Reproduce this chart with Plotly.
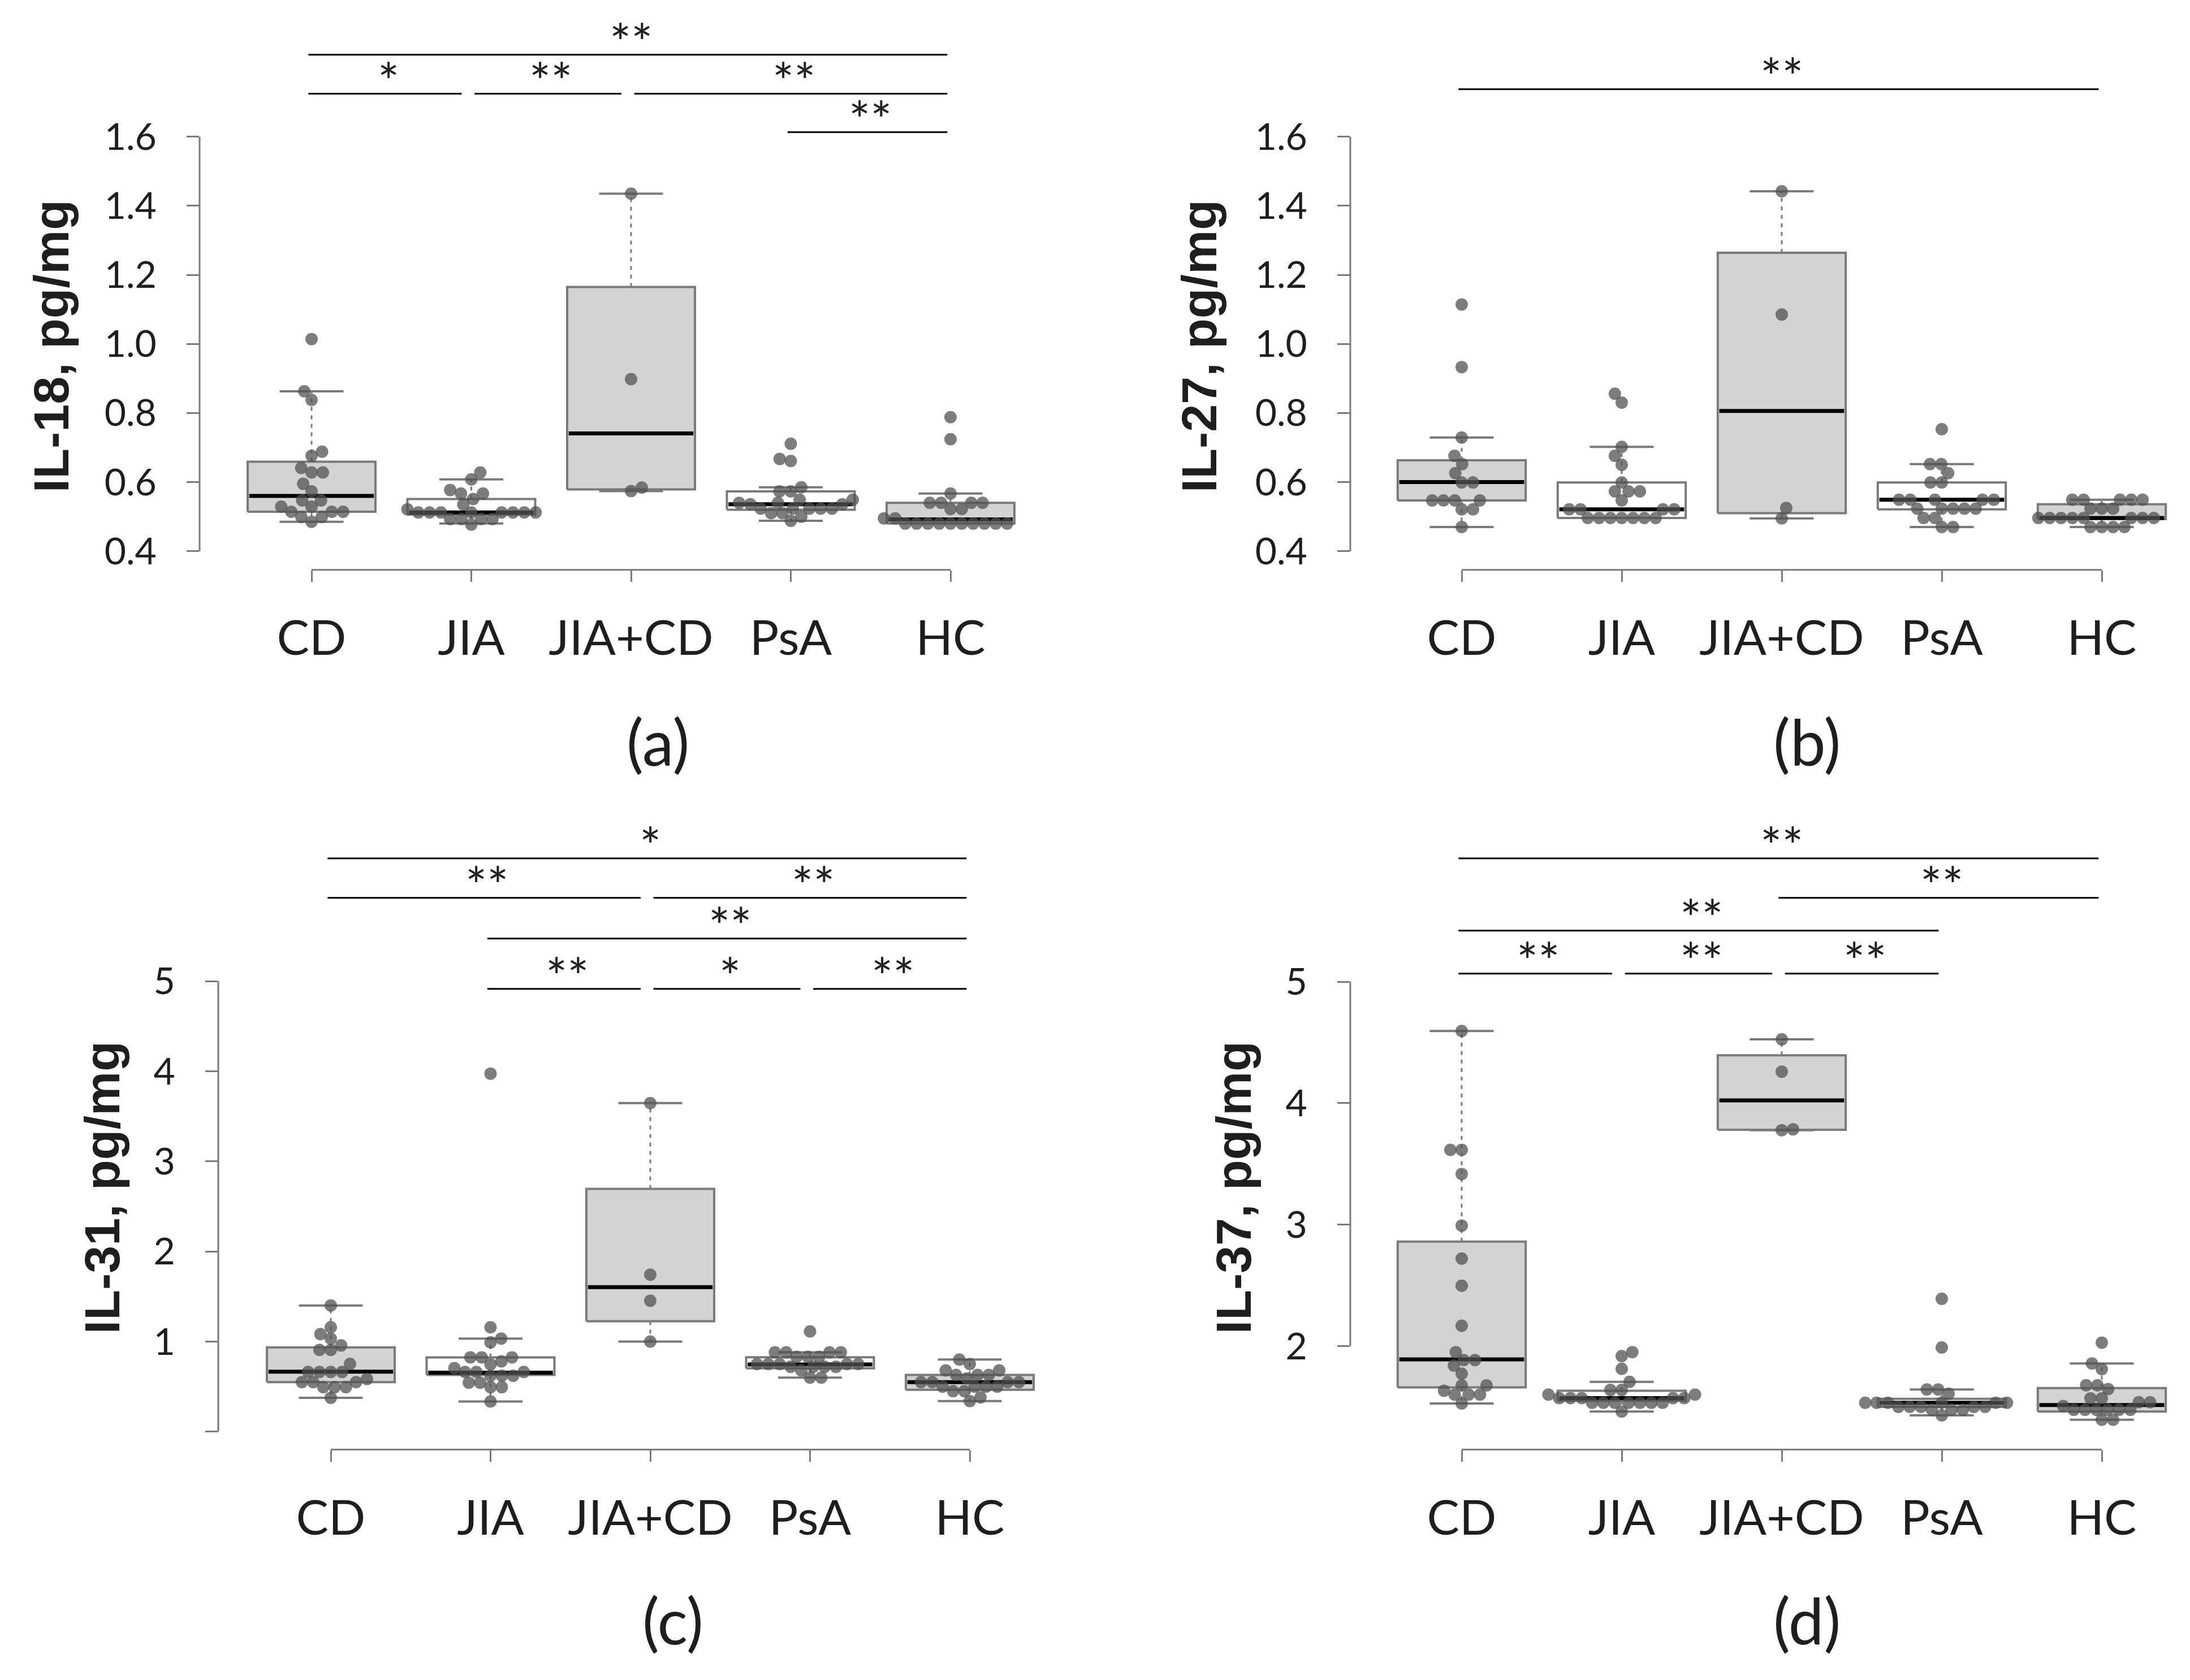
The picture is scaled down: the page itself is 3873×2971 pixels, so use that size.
import numpy as np
import plotly.graph_objects as go

W, H = 3873, 2971

GROUPS = ["CD", "JIA", "JIA+CD", "PsA", "HC"]
BOX_FILL = ["#d3d3d3", "#ffffff", "#d3d3d3", "#ffffff", "#d3d3d3"]

# ---------------- (a) IL-18 ----------------
il18_cd = [1.014, 0.863, 0.838, 0.688, 0.676, 0.641, 0.628, 0.628, 0.595, 0.573,
           0.547, 0.547, 0.529, 0.529, 0.514, 0.514, 0.514, 0.499, 0.499, 0.485]
il18_jia = [0.628, 0.608, 0.577, 0.567, 0.567, 0.551, 0.535, 0.521,
            0.512, 0.512, 0.512, 0.512, 0.512, 0.512, 0.512, 0.512,
            0.493, 0.493, 0.493, 0.493, 0.477]
il18_jiacd = [1.435, 0.898, 0.584, 0.574]
il18_psa = [0.711, 0.667, 0.661, 0.585, 0.573, 0.573, 0.549, 0.549, 0.540, 0.540,
            0.536, 0.536, 0.523, 0.523, 0.523, 0.523, 0.523, 0.510, 0.510, 0.500, 0.488]
il18_hc = [0.788, 0.724, 0.567, 0.540, 0.540, 0.540, 0.540, 0.522, 0.522, 0.495, 0.495,
           0.480, 0.480, 0.480, 0.480, 0.480, 0.480, 0.480, 0.480, 0.480, 0.480]
il18_q1 = [0.514, 0.506, 0.579, 0.520, 0.480]
il18_med = [0.560, 0.512, 0.741, 0.536, 0.492]
il18_q3 = [0.659, 0.551, 1.165, 0.573, 0.540]
il18_lo = [0.485, 0.480, 0.574, 0.488, 0.480]
il18_hi = [0.863, 0.608, 1.435, 0.585, 0.567]

# ---------------- (b) IL-27 ----------------
il27_cd = [1.114, 0.933, 0.729, 0.676, 0.652, 0.626, 0.599, 0.599,
           0.547, 0.547, 0.547, 0.547, 0.521, 0.521, 0.470]
il27_jia = [0.856, 0.830, 0.702, 0.676, 0.650, 0.599, 0.573, 0.573, 0.573, 0.547,
            0.521, 0.521, 0.521, 0.521,
            0.496, 0.496, 0.496, 0.496, 0.496, 0.496, 0.496]
il27_jiacd = [1.442, 1.085, 0.525, 0.495]
il27_psa = [0.753, 0.652, 0.652, 0.626, 0.599, 0.599,
            0.549, 0.549, 0.549, 0.549, 0.549, 0.523, 0.523, 0.523, 0.523, 0.523,
            0.496, 0.496, 0.470, 0.470]
il27_hc = [0.549, 0.549, 0.549, 0.549, 0.549, 0.523, 0.523, 0.523,
           0.496, 0.496, 0.496, 0.496, 0.496, 0.496, 0.496, 0.496,
           0.470, 0.470, 0.470, 0.470]
il27_q1 = [0.547, 0.496, 0.510, 0.521, 0.493]
il27_med = [0.600, 0.521, 0.806, 0.549, 0.496]
il27_q3 = [0.663, 0.599, 1.264, 0.599, 0.536]
il27_lo = [0.470, 0.496, 0.495, 0.470, 0.470]
il27_hi = [0.729, 0.702, 1.442, 0.652, 0.549]

# ---------------- (c) IL-31 ----------------
il31_cd = [1.401, 1.159, 1.083, 1.033, 0.957, 0.907, 0.907, 0.752,
           0.662, 0.662, 0.662, 0.662, 0.584, 0.55, 0.55, 0.55,
           0.494, 0.494, 0.494, 0.376]
il31_jia = [3.975, 1.159, 1.033, 0.991, 0.825, 0.825, 0.825, 0.78, 0.747, 0.705,
            0.662, 0.662, 0.662, 0.62, 0.62, 0.62, 0.544, 0.544, 0.494, 0.494, 0.334]
il31_jiacd = [3.648, 1.742, 1.453, 1.0]
il31_psa = [1.113, 0.88, 0.88, 0.88, 0.88, 0.83, 0.83, 0.83,
            0.75, 0.75, 0.75, 0.75, 0.75, 0.72, 0.72, 0.72, 0.72, 0.68, 0.60, 0.60]
il31_hc = [0.80, 0.75, 0.68, 0.68, 0.63, 0.63, 0.63, 0.59,
           0.55, 0.55, 0.55, 0.55, 0.50, 0.50, 0.50, 0.50, 0.45, 0.45, 0.38, 0.34]
il31_q1 = [0.55, 0.63, 1.226, 0.704, 0.465]
il31_med = [0.665, 0.655, 1.604, 0.745, 0.55]
il31_q3 = [0.935, 0.825, 2.695, 0.826, 0.63]
il31_lo = [0.376, 0.334, 1.0, 0.60, 0.34]
il31_hi = [1.40, 1.033, 3.648, 0.88, 0.80]

# ---------------- (d) IL-37 ----------------
il37_cd = [4.595, 3.616, 3.616, 3.417, 2.992, 2.72, 2.497, 2.167, 1.95, 1.884,
           1.884, 1.839, 1.772, 1.676, 1.676, 1.632, 1.60, 1.60, 1.60, 1.527]
il37_jia = [1.95, 1.917, 1.812, 1.705, 1.638, 1.638, 1.60, 1.60,
            1.571, 1.571, 1.571, 1.571, 1.571,
            1.533, 1.533, 1.533, 1.533, 1.533, 1.533, 1.533, 1.46]
il37_jiacd = [4.526, 4.26, 3.785, 3.778]
il37_psa = [2.389, 1.988, 1.642, 1.642, 1.607,
            1.533, 1.533, 1.533, 1.533, 1.533, 1.533,
            1.499, 1.499, 1.499, 1.499, 1.499, 1.475, 1.475, 1.475, 1.429]
il37_hc = [2.027, 1.856, 1.81, 1.677, 1.677, 1.646, 1.569, 1.569, 1.537, 1.537,
           1.506, 1.475, 1.475, 1.475, 1.475, 1.475, 1.475, 1.393, 1.393]
il37_q1 = [1.66, 1.55, 3.781, 1.499, 1.46]
il37_med = [1.89, 1.571, 4.023, 1.533, 1.514]
il37_q3 = [2.86, 1.632, 4.395, 1.565, 1.654]
il37_lo = [1.527, 1.46, 3.778, 1.429, 1.393]
il37_hi = [4.595, 1.705, 4.526, 1.642, 1.856]

# y ticks
ticks_a = [0.4, 0.6, 0.8, 1.0, 1.2, 1.4, 1.6]
ticks_a_text = ["0.4", "0.6", "0.8", "1.0", "1.2", "1.4", "1.6"]
ticks_c = [0, 1, 2, 3, 4, 5]
ticks_c_text = ["", "1", "2", "3", "4", "5"]
ticks_d = [2, 3, 4, 5]
ticks_d_text = ["2", "3", "4", "5"]

# significance: (group from, group to, label, row)
sig_a = [(0, 4, "**", 2), (0, 1, "*", 1), (1, 2, "**", 1), (2, 4, "**", 1), (3, 4, "**", 0)]
sig_b = [(0, 4, "**", 0)]
sig_c = [(0, 4, "*", 3), (0, 2, "**", 2), (2, 4, "**", 2), (1, 4, "**", 1),
         (1, 2, "**", 0), (2, 3, "*", 0), (3, 4, "**", 0)]
sig_d = [(0, 4, "**", 3), (2, 4, "**", 2), (0, 3, "**", 1),
         (0, 1, "**", 0), (1, 2, "**", 0), (2, 3, "**", 0)]

# panel geometry in page pixels
PANELS = [
    dict(title="IL-18, pg/mg", tag="(a)",
         pts=[il18_cd, il18_jia, il18_jiacd, il18_psa, il18_hc],
         q1=il18_q1, med=il18_med, q3=il18_q3, lo=il18_lo, hi=il18_hi,
         tv=ticks_a, tt=ticks_a_text, sig=sig_a, rows=[234, 166, 97],
         left=353, cat0=551, step=282.5, bottom=1009, top=20, yref=(1.6, 242), ppu=611.7,
         title_xy=(90, 613), tag_xy=(1163, 1312)),
    dict(title="IL-27, pg/mg", tag="(b)",
         pts=[il27_cd, il27_jia, il27_jiacd, il27_psa, il27_hc],
         q1=il27_q1, med=il27_med, q3=il27_q3, lo=il27_lo, hi=il27_hi,
         tv=ticks_a, tt=ticks_a_text, sig=sig_b, rows=[158],
         left=2388, cat0=2585, step=283, bottom=1009, top=20, yref=(1.6, 242), ppu=611.7,
         title_xy=(2120, 613), tag_xy=(3195, 1312)),
    dict(title="IL-31, pg/mg", tag="(c)",
         pts=[il31_cd, il31_jia, il31_jiacd, il31_psa, il31_hc],
         q1=il31_q1, med=il31_med, q3=il31_q3, lo=il31_lo, hi=il31_hi,
         tv=ticks_c, tt=ticks_c_text, sig=sig_c, rows=[1751, 1662, 1590, 1520],
         left=386, cat0=585, step=282.5, bottom=2567, top=1440, yref=(5, 1737.7), ppu=159.5,
         title_xy=(180, 2103), tag_xy=(1190, 2868)),
    dict(title="IL-37, pg/mg", tag="(d)",
         pts=[il37_cd, il37_jia, il37_jiacd, il37_psa, il37_hc],
         q1=il37_q1, med=il37_med, q3=il37_q3, lo=il37_lo, hi=il37_hi,
         tv=ticks_d, tt=ticks_d_text, sig=sig_d, rows=[1724, 1648, 1590, 1520],
         left=2388, cat0=2585, step=283, bottom=2567, top=1440, yref=(5, 1738.6), ppu=215,
         title_xy=(2181, 2103), tag_xy=(3195, 2868)),
]

GRAY = "#7a7a7a"
TXT = "#1e1e1e"
DOT = 20.0  # dot spacing in px


def swarm(vals, ppu, d=DOT):
    """compact beeswarm offsets in px"""
    vals = np.asarray(vals, dtype=float)
    order = np.argsort(vals, kind="stable")
    placed = []
    offs = np.zeros(len(vals))
    for i in order:
        y = vals[i] * ppu
        cands = [0.0]
        for px, py in placed:
            dy = abs(y - py)
            if dy < d:
                dx = np.sqrt(d * d - dy * dy)
                cands += [px - dx, px + dx]
        ok = [c for c in cands
              if all((c - px) ** 2 + (y - py) ** 2 >= d * d - 1e-6 for px, py in placed)]
        bias = sum(px for px, _ in placed)
        best = min(ok, key=lambda c: (round(abs(c), 3), c if bias > 0 else -c))
        offs[i] = best
        placed.append((best, y))
    return offs


fig = go.Figure()
axes = {}
shapes = []
annos = []

for n, p in enumerate(PANELS, start=1):
    sfx = "" if n == 1 else str(n)
    xa, ya = "x" + sfx, "y" + sfx
    step, cat0 = p["step"], p["cat0"]
    v0, px0 = p["yref"]
    ppu = p["ppu"]

    def yval(px):
        return v0 - (px - px0) / ppu

    right = cat0 + 4.5 * step
    axes["xaxis" + sfx] = dict(
        domain=[p["left"] / W, right / W],
        range=[(p["left"] - cat0) / step, (right - cat0) / step],
        anchor=ya, tickvals=list(range(5)), ticktext=GROUPS,
        ticks="outside", ticklen=20, tickwidth=3, tickcolor=GRAY,
        showline=False, showgrid=False, zeroline=False,
        tickfont=dict(family="Lato", size=86, color=TXT),
        ticklabelstandoff=26, fixedrange=True,
    )
    axes["yaxis" + sfx] = dict(
        domain=[1 - p["bottom"] / H, 1 - p["top"] / H],
        range=[yval(p["bottom"]), yval(p["top"])],
        anchor=xa, tickvals=p["tv"], ticktext=p["tt"],
        ticks="outside", ticklen=22, tickwidth=3, tickcolor=GRAY,
        showline=False, showgrid=False, zeroline=False,
        tickfont=dict(family="Lato", size=66, color=TXT),
        ticklabelstandoff=40, fixedrange=True,
    )

    # R-style axis lines
    shapes.append(dict(type="line", xref=xa + " domain", yref=ya, x0=0, x1=0,
                       y0=min(p["tv"]), y1=max(p["tv"]), line=dict(color=GRAY, width=3)))
    shapes.append(dict(type="line", xref=xa, yref=ya + " domain", x0=0, x1=4,
                       y0=0, y1=0, line=dict(color=GRAY, width=3)))

    bw, cw = 0.4, 0.2
    wx, wy, cx, cy, mx, my = [], [], [], [], [], []
    for i in range(5):
        q1, md, q3, lo, hi = p["q1"][i], p["med"][i], p["q3"][i], p["lo"][i], p["hi"][i]
        fig.add_trace(go.Scatter(
            x=[i - bw, i + bw, i + bw, i - bw, i - bw], y=[q1, q1, q3, q3, q1],
            mode="lines", fill="toself", fillcolor=BOX_FILL[i],
            line=dict(color=GRAY, width=4), xaxis=xa, yaxis=ya, hoverinfo="skip"))
        if hi > q3:
            wx += [i, i, None]; wy += [q3, hi, None]
        if lo < q1:
            wx += [i, i, None]; wy += [q1, lo, None]
        cx += [i - cw, i + cw, None, i - cw, i + cw, None]
        cy += [hi, hi, None, lo, lo, None]
        mx += [i - bw + 0.01, i + bw - 0.01, None]
        my += [md, md, None]

    fig.add_trace(go.Scatter(x=wx, y=wy, mode="lines", xaxis=xa, yaxis=ya,
                             line=dict(color=GRAY, width=3, dash="7px,8px"), hoverinfo="skip"))
    fig.add_trace(go.Scatter(x=cx, y=cy, mode="lines", xaxis=xa, yaxis=ya,
                             line=dict(color=GRAY, width=4), hoverinfo="skip"))
    fig.add_trace(go.Scatter(x=mx, y=my, mode="lines", xaxis=xa, yaxis=ya,
                             line=dict(color="#000000", width=7), hoverinfo="skip"))

    px_all, py_all = [], []
    for i, vals in enumerate(p["pts"]):
        offs = swarm(vals, ppu)
        px_all += list(i + offs / step)
        py_all += list(vals)
    fig.add_trace(go.Scatter(x=px_all, y=py_all, mode="markers", xaxis=xa, yaxis=ya,
                             marker=dict(size=22, color="rgba(82,82,82,0.75)", line=dict(width=0)),
                             hoverinfo="skip"))

    # significance bars
    for a, b, lab, row in p["sig"]:
        x0, x1 = a, b
        for a2, b2, _, r2 in p["sig"]:
            if r2 == row and (a2, b2) != (a, b):
                if b2 == a:
                    x0 = a + 0.04
                if a2 == b:
                    x1 = b - 0.04
        ly = p["rows"][row]
        shapes.append(dict(type="line", xref=xa, yref=ya, x0=x0 - 0.02, x1=x1 - 0.02,
                           y0=yval(ly), y1=yval(ly), line=dict(color="#000000", width=3)))
        annos.append(dict(xref=xa, yref=ya, x=(x0 + x1) / 2, y=yval(ly - 24), text=lab,
                          showarrow=False, yanchor="middle", xanchor="center",
                          font=dict(family="Lato", size=90, color=TXT)))

    annos.append(dict(xref="paper", yref="paper", x=p["title_xy"][0] / W,
                      y=1 - p["title_xy"][1] / H, text="<b>%s</b>" % p["title"],
                      textangle=-90, showarrow=False, xanchor="center", yanchor="middle",
                      font=dict(family="Liberation Sans", size=88, color=TXT)))
    annos.append(dict(xref="paper", yref="paper", x=p["tag_xy"][0] / W,
                      y=1 - p["tag_xy"][1] / H, text=p["tag"], showarrow=False,
                      xanchor="center", yanchor="middle",
                      font=dict(family="Lato", size=112, color=TXT)))

fig.update_layout(
    width=W, height=H, autosize=False,
    margin=dict(l=0, r=0, t=0, b=0),
    paper_bgcolor="white", plot_bgcolor="white",
    showlegend=False, font=dict(family="Lato", color=TXT),
    shapes=shapes, annotations=annos, **axes,
)

fig.write_html("out.html", config={"displayModeBar": False},
               post_script="document.body.style.margin='0px';")
